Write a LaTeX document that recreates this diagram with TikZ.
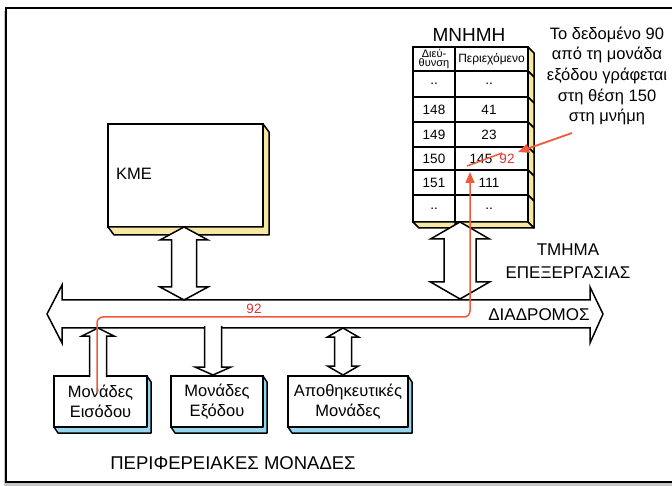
\documentclass[tikz,border=0pt]{standalone}
\usepackage{fontspec}
\setmainfont{Liberation Sans}
\usetikzlibrary{calc}
\usetikzlibrary{arrows.meta}
\definecolor{memyellow}{RGB}{246,232,160}
\definecolor{perblue}{RGB}{150,214,240}
\definecolor{datared}{RGB}{240,90,60}
\definecolor{numred}{RGB}{225,50,50}
\tikzset{
  frame/.style = {line width=2.5pt},
  face/.style = {draw, fill=white, line width=1.5pt, outer sep=0pt, inner sep=0pt, align=center},
  side3d/.style = {draw, fill=#1, line width=1.5pt, line join=round},
  cellline/.style = {line width=1.5pt, fill=white},
  blockarrow/.style = {draw, fill=white, line width=1.5pt, line join=miter},
  txt/.style = {inner sep=0pt, font=\fontsize{16.5}{20}\selectfont},
  celltxt/.style = {inner sep=0pt, font=\fontsize{13.5}{15}\selectfont},
  headtxt/.style = {inner sep=0pt, align=center, font=\fontsize{11}{9.5}\selectfont},
  boxtxt/.style = {font=\fontsize{16.5}{20}\selectfont},
  datapath/.style = {color=datared, line width=1.5pt, -{Triangle[width=9pt,length=11pt]}},
  datanum/.style = {inner sep=0pt, text=numred, font=\fontsize{13.5}{15}\selectfont},
  strike/.style = {color=datared, line width=1.5pt},
  note/.style = {inner sep=0pt, align=center, font=\fontsize{16.5}{20.6}\selectfont}
}
\newcommand{\extrusion}[4]{%
  % #1: box node, #2: fill colour, #3: x depth, #4: y depth
  \draw[side3d={#2}] (#1.north east) -- ++(#3,#4) -- ($(#1.south east)+(#3,#4)$)
    -- ($(#1.south west)+(#3,#4)$) -- (#1.south west) -- (#1.south east) -- cycle;
}
\newcommand{\dblarrow}[5]{%
  % #1: top tip, #2: length, #3: head half width, #4: shaft half width, #5: head length
  \begin{scope}[shift={(#1)}]
    \draw[blockarrow] (0,0) -- (#3,#5) -- (#4,#5) -- (#4,#2-#5) -- (#3,#2-#5) -- (0,#2)
      -- (-#3,#2-#5) -- (-#4,#2-#5) -- (-#4,#5) -- (-#3,#5) -- cycle;
  \end{scope}
}
\newcommand{\uparrowblock}[5]{%
  % #1: top tip, #2: length, #3: head half width, #4: shaft half width, #5: head length
  \begin{scope}[shift={(#1)}]
    \draw[blockarrow] (-#4,#2) -- (-#4,#5) -- (-#3,#5) -- (0,0) -- (#3,#5) -- (#4,#5) -- (#4,#2);
  \end{scope}
}
\newcommand{\downarrowblock}[5]{%
  % #1: top of shaft, #2: length, #3: head half width, #4: shaft half width, #5: head length
  \begin{scope}[shift={(#1)}]
    \draw[blockarrow] (-#4,0) -- (-#4,#2-#5) -- (-#3,#2-#5) -- (0,#2) -- (#3,#2-#5) -- (#4,#2-#5) -- (#4,0);
  \end{scope}
}
\begin{document}
\begin{tikzpicture}[x=1pt,y=-1pt]
    \useasboundingbox (0,0) rectangle (672,486);
    \clip (0,0) rectangle (672,486);

    % Frame
    \fill[gray!45] (4,11) rectangle (700,487);
    \draw[frame, fill=white] (6,8) rectangle (700,482);

    % CPU
    \node[face, minimum width=155pt, minimum height=103pt] (kme) at (185.5,175.5) {};
    \extrusion{kme}{memyellow}{6}{8}
    \node[txt, anchor=west] (kmetxt) at ($(kme.west)+(8,-2)$) {ΚΜΕ};

    % Memory
    \node[txt, font=\fontsize{19}{22}\selectfont] (mnimi) at (469,35) {ΜΝΗΜΗ};
    \draw[side3d={memyellow}] (528,47) -- (534,53) -- (534,77) -- (528,71) -- cycle;
    \draw[cellline] (413,47) rectangle (455,71);
    \draw[cellline] (455,47) rectangle (528,71);
    \node[headtxt] (haddr) at (434,59) {Διεύ-\\θυνση};
    \node[headtxt, font=\fontsize{12}{13}\selectfont] (hcont) at (491.5,59.5) {Περιεχόμενο};
    \foreach \n/\yt/\yb/\addr/\cx/\cont in {1/71/97/../489/.., 2/97/122/148/489/41,
        3/122/147/149/489/23, 4/147/170/150/481/145, 5/170/195/151/489/111, 6/195/222/../489/..} {
      \draw[side3d={memyellow}] (528,\yt) -- (534,\yt+6) -- (534,\yb+6) -- (528,\yb) -- cycle;
      \draw[cellline] (413,\yt) rectangle (455,\yb);
      \draw[cellline] (455,\yt) rectangle (528,\yb);
      \node[celltxt] (a\n) at (434,{(\yt+\yb)/2}) {\addr};
      \node[celltxt] (c\n) at (\cx,{(\yt+\yb)/2}) {\cont};
    }
    \draw[side3d={memyellow}] (413,222) -- (419,228) -- (455,228) -- (455,222) -- cycle;
    \draw[side3d={memyellow}] (455,222) -- (461,228) -- (534,228) -- (528,222) -- cycle;

    % Peripherals
    \node[face, boxtxt, minimum width=93pt, minimum height=51pt] (in) at (100.5,401.5) {Μονάδες\\Εισόδου};
    \extrusion{in}{perblue}{4}{6}
    \node[face, boxtxt, minimum width=92pt, minimum height=51pt] (out) at (217,401.5) {Μονάδες\\Εξόδου};
    \extrusion{out}{perblue}{4}{6}
    \node[face, boxtxt, minimum width=120pt, minimum height=51pt] (store) at (348,401.5) {Αποθηκευτικές\\Μονάδες};
    \extrusion{store}{perblue}{4}{6}

    % Bus
    \draw[blockarrow] (47,314) -- (62,285) -- (62,300) -- (590,300) -- (590,287) -- (603,314)
      -- (590,343) -- (590,328) -- (62,328) -- (62,343) -- cycle;

    % Connections
    \coordinate (kmetip) at (184,227);
    \dblarrow{kmetip}{73}{24}{12.5}{13}
    \coordinate (memtip) at (460,222);
    \dblarrow{memtip}{77}{29.5}{16}{17}
    \coordinate (intip) at (98,328);
    \uparrowblock{intip}{49}{16}{8.5}{8}
    \coordinate (outtop) at (213,326);
    \downarrowblock{outtop}{49}{18}{8.5}{8}
    \coordinate (sttip) at (343,328);
    \dblarrow{sttip}{47}{15.5}{8.5}{9}

    % Labels
    \node[txt, align=center, font=\fontsize{17}{23}\selectfont] (tmima) at (568,261) {ΤΜΗΜΑ\\ΕΠΕΞΕΡΓΑΣΙΑΣ};
    \node[txt, font=\fontsize{17}{20}\selectfont] (bus) at (539,315) {ΔΙΑΔΡΟΜΟΣ};
    \node[txt, font=\fontsize{18.5}{22}\selectfont] (periph) at (233,463) {ΠΕΡΙΦΕΡΕΙΑΚΕΣ ΜΟΝΑΔΕΣ};

    % Data flow
    \coordinate (instart) at (97,393);
    \coordinate (bend) at (470,317);
    \coordinate (memhit) at (470,172);
    \draw[datapath, rounded corners=6pt] (instart) |- (bend) -- (memhit);
    \node[datanum] (busval) at (254,309) {92};
    \draw[strike] (467,166) -- (502,153);
    \node[datanum] (newval) at (507,159) {92};
    \node[note] (notetxt) at (607,76) {Το δεδομένο 90\\από τη μονάδα\\εξόδου γράφεται\\στη θέση 150\\στη μνήμη};
    \coordinate (notefrom) at (572,133);
    \coordinate (notehit) at (518,152);
    \draw[datapath, line width=1.8pt] (notefrom) -- (notehit);

\end{tikzpicture}
\end{document}
